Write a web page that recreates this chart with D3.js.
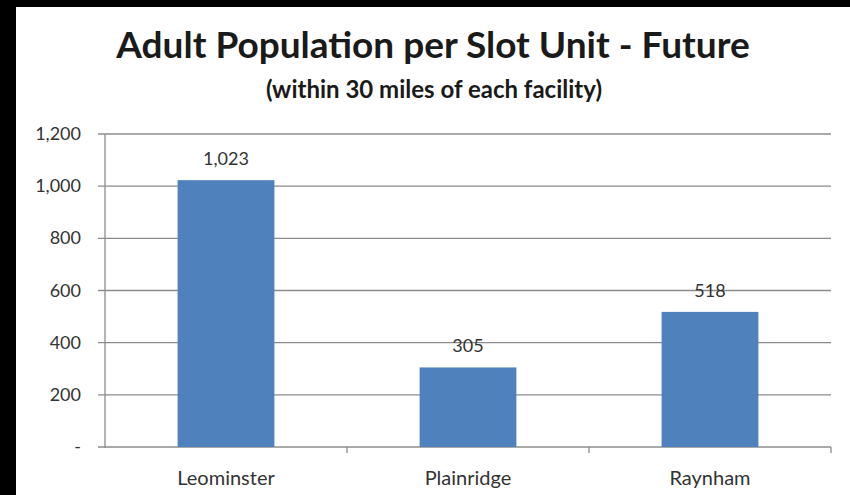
<!DOCTYPE html>
<html>
<head>
<meta charset="utf-8">
<script src="https://cdn.jsdelivr.net/npm/d3@7"></script>
<style>
  html, body { margin: 0; padding: 0; background: #000; }
  svg { display: block; }
</style>
</head>
<body>
<div id="corpo"></div>
<script>
// dados
var categorias = ["Leominster", "Plainridge", "Raynham"];
var valores = [1023, 305, 518];
var yTicks = [0, 200, 400, 600, 800, 1000, 1200];

var width = 850, height = 495;
var svg = d3.select("#corpo").append("svg")
	.attr("width", width)
	.attr("height", height);

// fundo branco (moldura preta em cima e à esquerda)
svg.append("rect")
	.attr("x", 16).attr("y", 7)
	.attr("width", width - 16).attr("height", height - 7)
	.attr("fill", "#fff");

var fonte = "Lato, 'Open Sans', sans-serif";

/* títulos */
svg.append("text")
	.attr("x", 433).attr("y", 58)
	.attr("text-anchor", "middle")
	.attr("font-family", fonte)
	.attr("font-weight", "bold")
	.attr("font-size", 37)
	.attr("fill", "#1a1a1a")
	.text("Adult Population per Slot Unit - Future");

svg.append("text")
	.attr("x", 434).attr("y", 98)
	.attr("text-anchor", "middle")
	.attr("font-family", fonte)
	.attr("font-weight", "bold")
	.attr("font-size", 24)
	.attr("fill", "#1a1a1a")
	.text("(within 30 miles of each facility)");

/* escalas */
var x = d3.scaleBand()
	.domain(categorias)
	.range([105, 831])
	.paddingInner(0.6)
	.paddingOuter(0.3);

var xEdge = d3.scaleBand().domain(categorias).range([105, 831]);

var y = d3.scaleLinear()
	.domain([0, 1200])
	.range([447, 134]);

var fmt = d3.format(",");

// grade
svg.append("g").selectAll("line")
	.data(yTicks)
	.enter().append("line")
	.attr("x1", 98).attr("x2", 831)
	.attr("y1", function(d) { return y(d); })
	.attr("y2", function(d) { return y(d); })
	.attr("stroke", "#8c8c8c")
	.attr("stroke-width", 1.3);

// eixo y
svg.append("line")
	.attr("x1", 105).attr("x2", 105)
	.attr("y1", y(1200)).attr("y2", y(0) + 1)
	.attr("stroke", "#8c8c8c")
	.attr("stroke-width", 1.3);

svg.append("g").selectAll("text")
	.data(yTicks)
	.enter().append("text")
	.attr("x", 81)
	.attr("y", function(d) { return y(d) + 6; })
	.attr("text-anchor", "end")
	.attr("font-family", fonte)
	.attr("font-size", 18)
	.attr("fill", "#333")
	.text(function(d) { return d === 0 ? "-" : fmt(d); });

// marcas do eixo x
var bordas = categorias.map(function(c) { return xEdge(c) + xEdge.bandwidth(); });
svg.append("g").selectAll("line")
	.data(bordas)
	.enter().append("line")
	.attr("x1", function(d) { return d; })
	.attr("x2", function(d) { return d; })
	.attr("y1", y(0)).attr("y2", y(0) + 6)
	.attr("stroke", "#8c8c8c")
	.attr("stroke-width", 1.3);

/* barras */
svg.append("g").selectAll("rect")
	.data(valores)
	.enter().append("rect")
	.attr("x", function(d, i) { return x(categorias[i]); })
	.attr("y", function(d) { return y(d); })
	.attr("width", x.bandwidth())
	.attr("height", function(d) { return y(0) - y(d); })
	.attr("fill", "#4f81bd");

// rótulos dos valores
svg.append("g").selectAll("text")
	.data(valores)
	.enter().append("text")
	.attr("x", function(d, i) { return x(categorias[i]) + x.bandwidth() / 2; })
	.attr("y", function(d) { return y(d) - 15; })
	.attr("text-anchor", "middle")
	.attr("font-family", fonte)
	.attr("font-size", 18)
	.attr("fill", "#333")
	.text(function(d) { return fmt(d); });

// nomes das categorias
svg.append("g").selectAll("text")
	.data(categorias)
	.enter().append("text")
	.attr("x", function(d) { return x(d) + x.bandwidth() / 2; })
	.attr("y", 485)
	.attr("text-anchor", "middle")
	.attr("font-family", fonte)
	.attr("font-size", 20)
	.attr("fill", "#333")
	.text(function(d) { return d; });
</script>
</body>
</html>
